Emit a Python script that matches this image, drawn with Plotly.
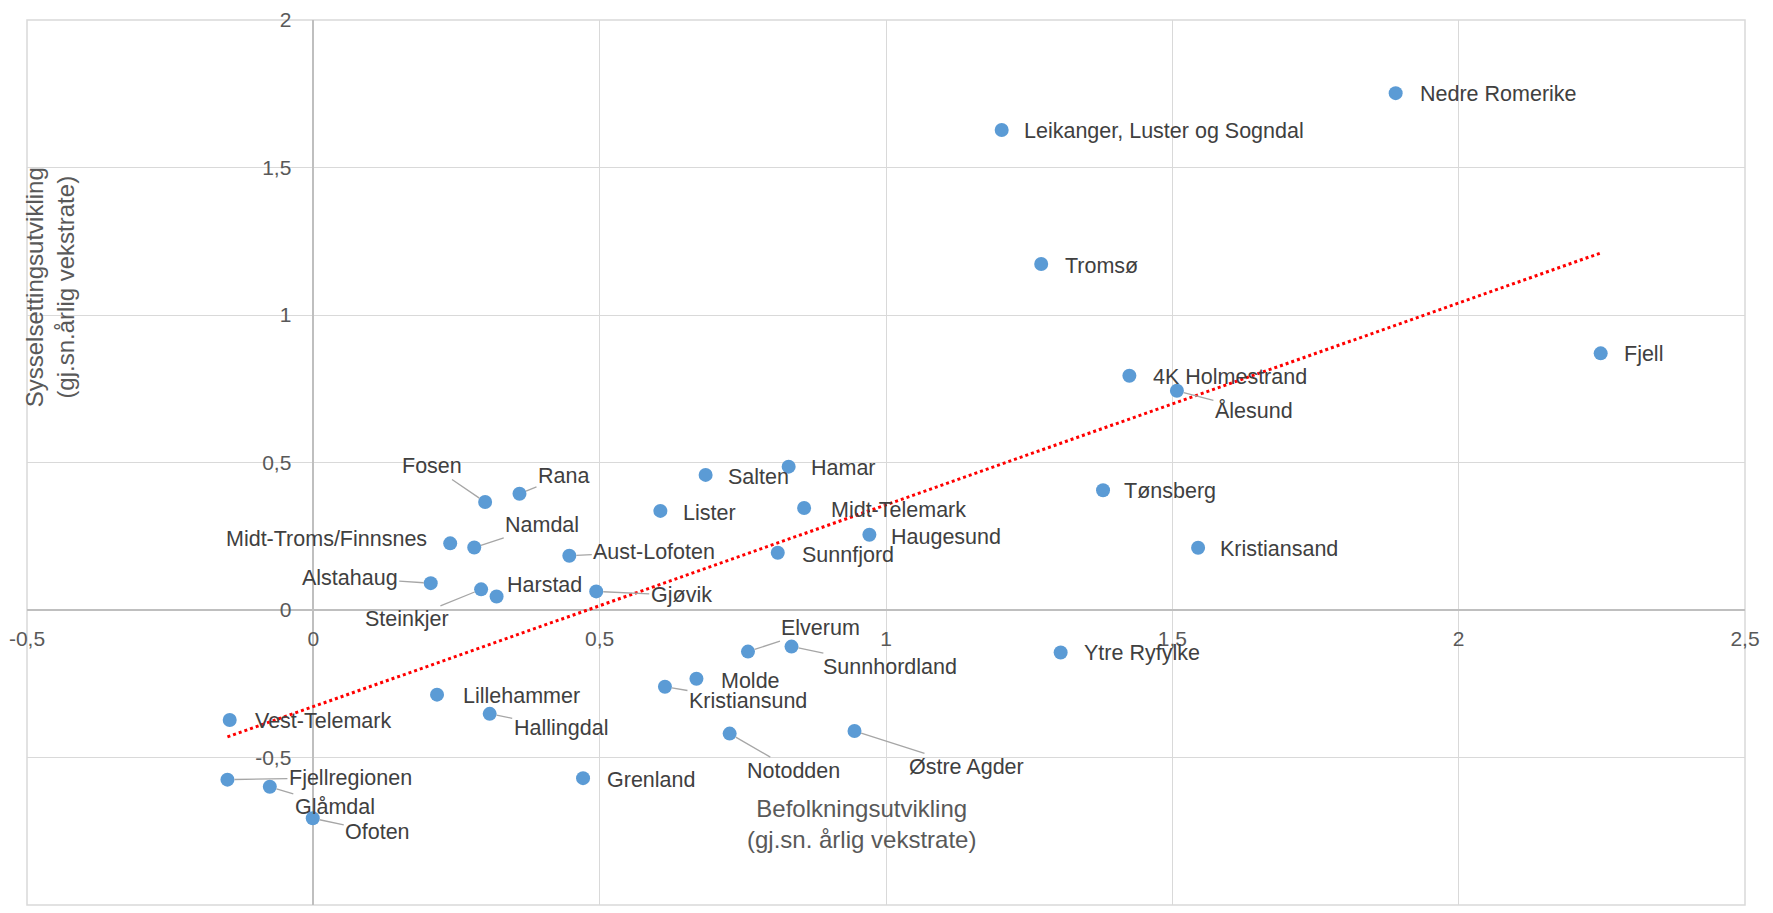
"""Scatter of regional employment growth against population growth.

Excel-style chart: axes cross at the origin, labels sit next to each dot and
a dotted red linear trend line runs across the cloud.
"""

from __future__ import annotations

import numpy as np
import plotly.graph_objects as go

# -- Data --------------------------------------------------------------------

REGIONS = [
    "Nedre Romerike", "Leikanger, Luster og Sogndal", "Tromsø", "Fjell",
    "4K Holmestrand", "Ålesund", "Tønsberg", "Kristiansand", "Ytre Ryfylke",
    "Fosen", "Rana", "Salten", "Hamar", "Lister", "Midt-Telemark",
    "Haugesund", "Sunnfjord", "Midt-Troms/Finnsnes", "Namdal",
    "Aust-Lofoten", "Alstahaug", "Steinkjer", "Harstad", "Gjøvik",
    "Elverum", "Sunnhordland", "Molde", "Kristiansund", "Lillehammer",
    "Hallingdal", "Vest-Telemark", "Notodden", "Østre Agder",
    "Fjellregionen", "Glåmdal", "Grenland", "Ofoten",
]

# Befolkningsutvikling, gj.sn. årlig vekstrate (%)
POPULATION_GROWTH = [
    1.890, 1.202, 1.271, 2.248,
    1.425, 1.508, 1.379, 1.545, 1.305,
    0.300, 0.360, 0.685, 0.830, 0.606, 0.857,
    0.971, 0.811, 0.239, 0.281,
    0.447, 0.205, 0.293, 0.320, 0.494,
    0.759, 0.835, 0.669, 0.614, 0.216,
    0.308, -0.146, 0.727, 0.945,
    -0.150, -0.076, 0.471, -0.001,
]

# Sysselsettingsutvikling, gj.sn. årlig vekstrate (%)
EMPLOYMENT_GROWTH = [
    1.752, 1.627, 1.173, 0.870,
    0.794, 0.743, 0.406, 0.211, -0.144,
    0.366, 0.394, 0.458, 0.486, 0.336, 0.346,
    0.255, 0.194, 0.226, 0.212,
    0.184, 0.091, 0.070, 0.046, 0.063,
    -0.141, -0.124, -0.233, -0.260, -0.287,
    -0.352, -0.373, -0.419, -0.410,
    -0.575, -0.599, -0.570, -0.706,
]

X_TICKS = [-0.5, 0, 0.5, 1, 1.5, 2, 2.5]
X_TICK_TEXT = ["-0,5", "0", "0,5", "1", "1,5", "2", "2,5"]
Y_TICKS = [-1, -0.5, 0, 0.5, 1, 1.5, 2]
Y_TICK_TEXT = ["-1", "-0,5", "0", "0,5", "1", "1,5", "2"]

X_TITLE = "Befolkningsutvikling<br>(gj.sn. årlig vekstrate)"
Y_TITLE = "Sysselsettingsutvikling<br>(gj.sn.årlig vekstrate)"

# -- Style -------------------------------------------------------------------

FONT = "Liberation Sans"
DOT = "#5B9BD5"
LABEL = "#404040"
AXIS_TEXT = "#595959"
GRID = "#D9D9D9"
ZERO = "#BFBFBF"
LEADER = "#A6A6A6"
TREND = "#FF0000"

# label centre offset from its dot in px (dx right, dy down), leader line?
LABEL_POS: dict[str, tuple[int, int, bool]] = {
    "Nedre Romerike": (103, 1, False),
    "Leikanger, Luster og Sogndal": (162, 1, False),
    "Tromsø": (60, 2, False),
    "Fjell": (43, 1, False),
    "4K Holmestrand": (101, 1, False),
    "Ålesund": (77, 20, True),
    "Tønsberg": (67, 1, False),
    "Kristiansand": (81, 1, False),
    "Ytre Ryfylke": (81, 1, False),
    "Fosen": (-53, -36, True),
    "Rana": (44, -18, True),
    "Salten": (53, 2, False),
    "Hamar": (55, 1, False),
    "Lister": (49, 2, False),
    "Midt-Telemark": (94, 2, False),
    "Haugesund": (77, 2, False),
    "Sunnfjord": (70, 2, False),
    "Midt-Troms/Finnsnes": (-124, -4, False),
    "Namdal": (68, -22, True),
    "Aust-Lofoten": (85, -4, True),
    "Alstahaug": (-81, -5, True),
    "Steinkjer": (-74, 30, True),
    "Harstad": (48, -11, False),
    "Gjøvik": (85, 4, True),
    "Elverum": (73, -24, True),
    "Sunnhordland": (98, 20, True),
    "Molde": (54, 2, False),
    "Kristiansund": (83, 14, True),
    "Lillehammer": (84, 1, False),
    "Hallingdal": (71, 14, True),
    "Vest-Telemark": (93, 1, False),
    "Notodden": (64, 37, True),
    "Østre Agder": (112, 36, True),
    "Fjellregionen": (123, -2, True),
    "Glåmdal": (65, 20, True),
    "Grenland": (68, 2, False),
    "Ofoten": (65, 14, True),
}


def _axis(ticks: list[float], text: list[str], rng: list[float],
          position: float, standoff: int) -> dict:
    return dict(
        range=rng, tickvals=ticks, ticktext=text,
        showgrid=True, gridcolor=GRID, gridwidth=1.3,
        zeroline=True, zerolinecolor=ZERO, zerolinewidth=1.7,
        showline=False, ticks="", anchor="free", position=position,
        ticklabelstandoff=standoff,
        tickfont=dict(family=FONT, size=21, color=AXIS_TEXT),
        fixedrange=True,
    )


def build_figure() -> go.Figure:
    x = np.array(POPULATION_GROWTH)
    y = np.array(EMPLOYMENT_GROWTH)

    # linear trend, drawn over the x span of the data like Excel does
    slope, intercept = np.polyfit(x, y, 1)
    tx = np.array([x.min(), x.max()])

    fig = go.Figure()
    fig.add_trace(go.Scatter(
        x=tx, y=slope * tx + intercept, mode="lines",
        line=dict(color=TREND, width=3, dash="dot"),
        hoverinfo="skip", showlegend=False,
    ))
    fig.add_trace(go.Scatter(
        x=x, y=y, mode="markers", text=REGIONS,
        marker=dict(color=DOT, size=14),
        hovertemplate="%{text}<br>%{x}, %{y}<extra></extra>",
        showlegend=False,
    ))

    annotations = []
    for name, px, py in zip(REGIONS, x, y):
        dx, dy, leader = LABEL_POS[name]
        annotations.append(dict(
            x=px, y=py, xref="x", yref="y", text=name,
            showarrow=True, ax=dx, ay=dy, arrowhead=0, arrowwidth=1.3,
            arrowcolor=LEADER if leader else "rgba(0,0,0,0)",
            standoff=7,
            font=dict(family=FONT, size=21.5, color=LABEL),
        ))
    annotations.append(dict(
        x=0.486, y=0.091, xref="paper", yref="paper", text=X_TITLE,
        xanchor="center", yanchor="middle",
        showarrow=False, align="center",
        font=dict(family=FONT, size=24, color=AXIS_TEXT),
    ))
    annotations.append(dict(
        x=0.0134, y=0.698, xref="paper", yref="paper", text=Y_TITLE,
        xanchor="center", yanchor="middle",
        showarrow=False, align="center", textangle=-90,
        font=dict(family=FONT, size=24, color=AXIS_TEXT),
    ))

    fig.update_layout(
        width=1773, height=913,
        margin=dict(l=27, r=28, t=12, b=8),
        paper_bgcolor="white", plot_bgcolor="white",
        font=dict(family=FONT, color=LABEL),
        xaxis=_axis(X_TICKS, X_TICK_TEXT, [-0.5, 2.5], 1 / 3, 14),
        yaxis=_axis(Y_TICKS, Y_TICK_TEXT, [-1, 2], 1 / 6, 22),
        annotations=annotations,
        shapes=[dict(type="rect", xref="paper", yref="paper",
                     x0=0, x1=1, y0=0, y1=1,
                     line=dict(color=GRID, width=1.5), layer="below")],
    )
    return fig


fig = build_figure()
fig.write_html(
    "out.html",
    config={"displayModeBar": False},
    post_script="document.body.style.margin='0';",
)
